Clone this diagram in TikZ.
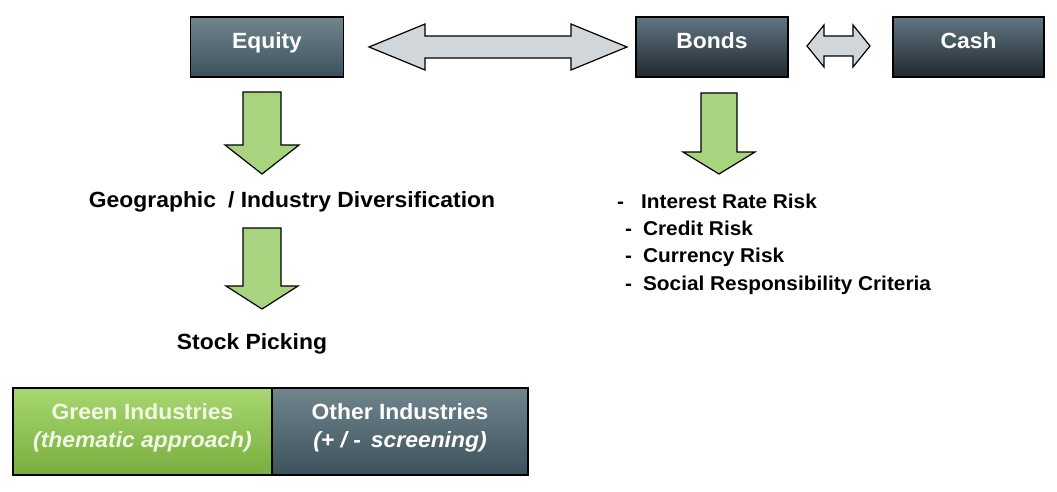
\documentclass[tikz,border=0pt]{standalone}
\usepackage{fontspec}
\setmainfont{Liberation Sans}[FakeStretch=1.04]
\definecolor{eqtop}{HTML}{71858F}
\definecolor{eqbot}{HTML}{3D515C}
\definecolor{bdtop}{HTML}{627581}
\definecolor{bdbot}{HTML}{1E292F}
\definecolor{grtop}{HTML}{A8D770}
\definecolor{grbot}{HTML}{78AE3E}
\definecolor{arrgreen}{HTML}{A9D47F}
\definecolor{arrgray}{HTML}{D0D6D9}
\definecolor{greentext}{HTML}{F2F7E6}
\tikzset{
  boxbase/.style={draw=black, line width=1.3pt, inner sep=0pt, font=\bfseries\fontsize{22}{24.5}\selectfont, text=white, align=center},
  lightbox/.style={boxbase, top color=eqtop, bottom color=eqbot},
  darkbox/.style={boxbase, top color=bdtop, bottom color=bdbot},
  greenbox/.style={boxbase, top color=grtop, bottom color=grbot, text=greentext},
  topbox/.style={minimum height=60pt, text height=16pt, text depth=12pt},
  boxtext/.style={inner sep=0pt, font=\bfseries\fontsize{22}{28}\selectfont, align=center},
  greenarrow/.style={draw=black, line width=1.2pt, fill=arrgreen, line join=miter},
  grayarrow/.style={draw=black, line width=1.2pt, fill=arrgray, line join=miter},
  label/.style={font=\bfseries\fontsize{22}{26}\selectfont, inner sep=0pt},
  listitem/.style={font=\bfseries\fontsize{20}{24}\selectfont, inner sep=0pt, anchor=base west},
}
\begin{document}
\begin{tikzpicture}[x=1pt,y=-1pt]
\useasboundingbox[fill=white] (0,0) rectangle (1057,492);
% top boxes
\node[lightbox, topbox, minimum width=153pt] (equity) at (267,47) {Equity};
\node[darkbox, topbox, minimum width=152pt] (bonds) at (712,47) {Bonds};
\node[darkbox, topbox, minimum width=151pt] (cash) at (968.5,47) {Cash};
% gray double arrows
\draw[grayarrow] (369,47) -- (425,24) -- (425,36) -- (571,36) -- (571,24) -- (627,47)
  -- (571,70) -- (571,58) -- (425,58) -- (425,70) -- cycle;
\draw[grayarrow] (807,46) -- (824,25) -- (824,36) -- (853,36) -- (853,25) -- (870,46)
  -- (853,67) -- (853,56) -- (824,56) -- (824,67) -- cycle;
% green arrows
\draw[greenarrow] (243,92) -- (281,92) -- (281,145) -- (299,145) -- (262,174)
  -- (225,145) -- (243,145) -- cycle;
\draw[greenarrow] (243,228) -- (281,228) -- (281,286) -- (298,286) -- (262,309)
  -- (226,286) -- (243,286) -- cycle;
\draw[greenarrow] (701,93) -- (737,93) -- (737,152) -- (755,152) -- (719,174)
  -- (683,152) -- (701,152) -- cycle;
% labels
\node[label] (geo) at (292,202) {Geographic\hspace{12pt}/ Industry Diversification};
\node[label] (stock) at (252,344) {Stock Picking};
% bond risks
\node[listitem] (r1) at (617,208) {-\hspace{17pt}Interest Rate Risk};
\node[listitem] (r2) at (625,235) {-\hspace{11pt}Credit Risk};
\node[listitem] (r3) at (625,262) {-\hspace{11pt}Currency Risk};
\node[listitem] (r4) at (625,290) {-\hspace{11pt}Social Responsibility Criteria};
% bottom boxes
\node[greenbox, minimum width=259pt, minimum height=87pt] (green) at (142.5,431.5) {};
\node[lightbox, minimum width=256pt, minimum height=87pt] (other) at (400,431.5) {};
\node[boxtext, text=greentext] (greenlbl) at ([yshift=4pt]green.center)
  {Green Industries\\\textit{(thematic approach)}};
\node[boxtext, text=white] (otherlbl) at ([yshift=4pt]other.center)
  {Other Industries\\\textit{(+ / -\hspace{10pt}screening)}};
\end{tikzpicture}
\end{document}
